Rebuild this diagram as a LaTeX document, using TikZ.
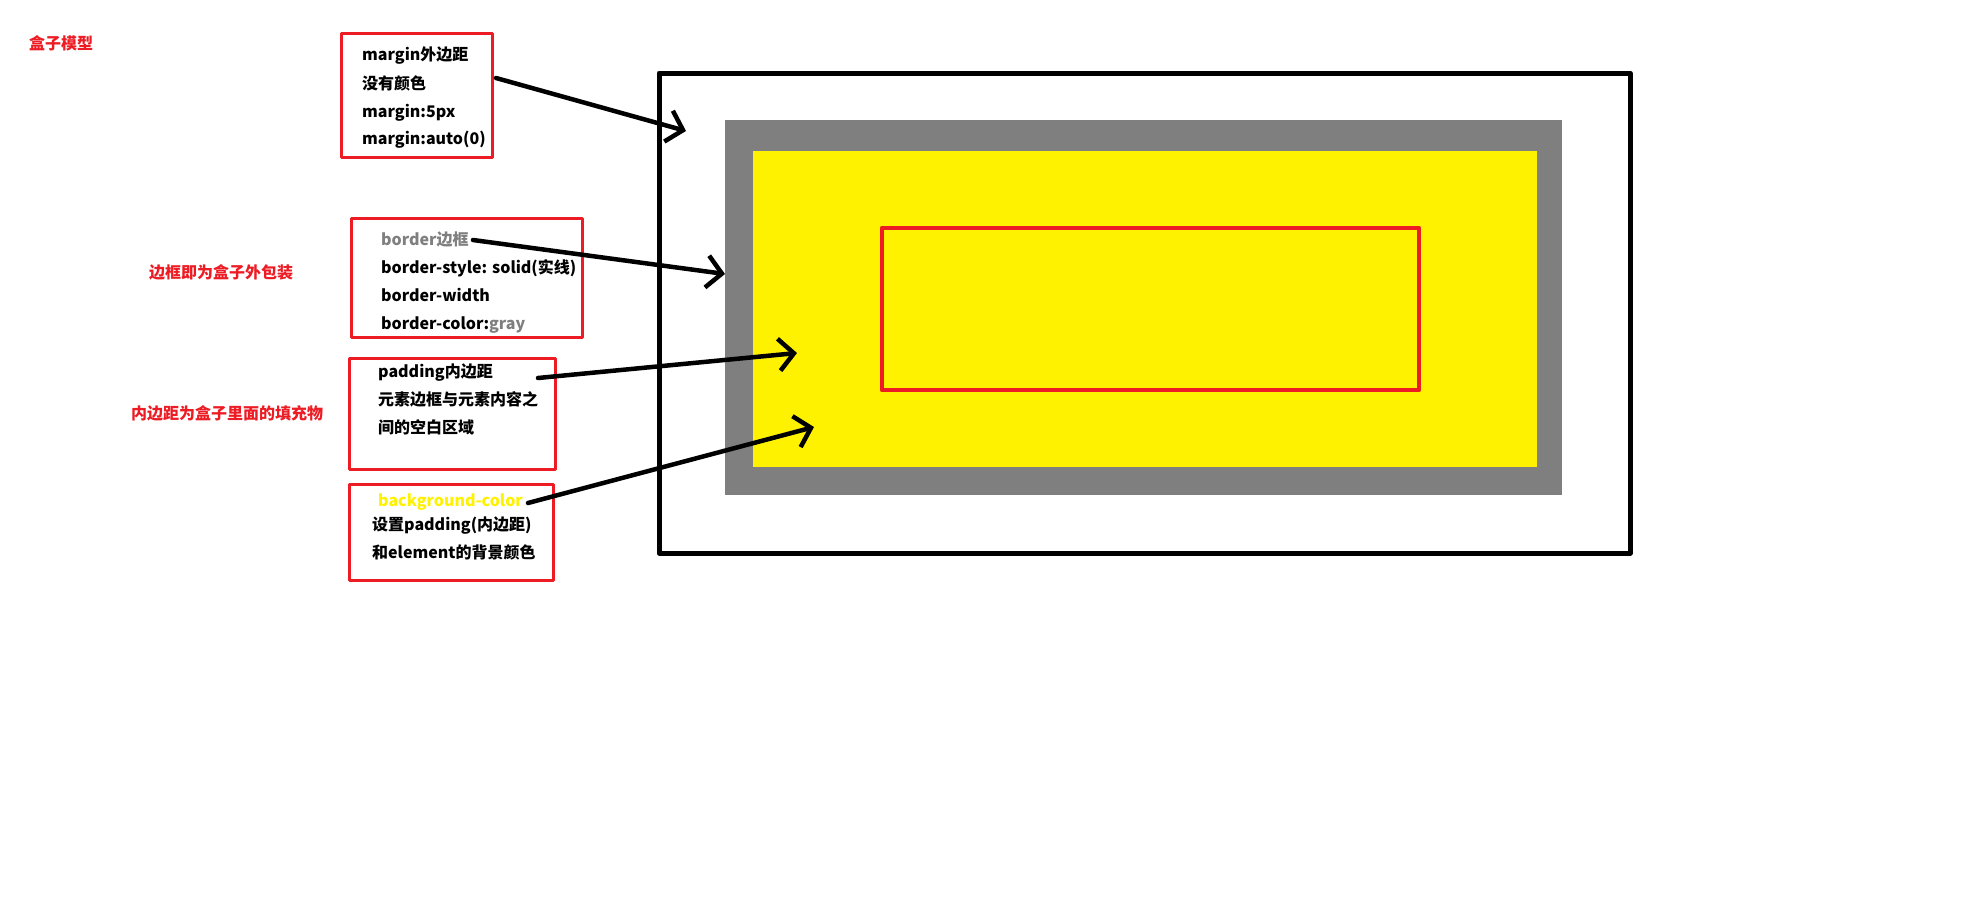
\documentclass[tikz,border=0pt]{standalone}
\usepackage{fontspec}
\newfontfamily\cjk{Noto Sans CJK SC}
\usetikzlibrary{arrows.meta}
\definecolor{paintred}{HTML}{ED1C24}
\definecolor{boxgray}{HTML}{7F7F7F}
\definecolor{boxyellow}{HTML}{FFF200}

\tikzset{
  note/.style={font=\cjk\bfseries\fontsize{16}{16}\selectfont, anchor=west, inner sep=0pt,
    text height=14pt, text depth=2pt},
  frame/.style={draw=paintred, line width=3pt},
  pointer/.style={-{Straight Barb[length=15pt,width=32pt]}, line width=4.5pt, line cap=round},
}

\begin{document}
\begin{tikzpicture}[x=1pt, y=-1pt, line join=round]
\useasboundingbox (0,0) rectangle (1986,921);
\fill[white] (0,0) rectangle (1986,921);

% Modello del box
\draw[line width=5pt] (659,73) rectangle (1630,553);
\fill[boxgray] (725,120) rectangle (1562,495);
\fill[boxyellow] (753,151) rectangle (1537,467);
\draw[paintred, line width=4.5pt] (882,228) rectangle (1419,390);

% Titoli
\node[note, text=paintred] (titolo) at (29,43) {盒子模型};
\node[note, text=paintred] (bordernote) at (149,272) {边框即为盒子外包装};
\node[note, text=paintred] (paddingnote) at (131,413) {内边距为盒子里面的填充物};

% Margin
\draw[frame] (341,33) rectangle (492,157);
\node[note] (m1) at (362,54) {margin外边距};
\node[note] (m2) at (362,83) {没有颜色};
\node[note] (m3) at (362,111) {margin:5px};
\node[note] (m4) at (362,138) {margin:auto(0)};

% Border
\draw[frame] (351,218) rectangle (582,337);
\node[note, text=boxgray] (b1) at (381,239) {border边框};
\node[note] (b2) at (381,267) {border-style: solid(实线)};
\node[note] (b3) at (381,295) {border-width};
\node[note] (b4) at (381,323) {border-color:\textcolor{boxgray}{gray}};

% Padding
\draw[frame] (349,358) rectangle (555,469);
\node[note] (p1) at (378,371) {padding内边距};
\node[note] (p2) at (378,399) {元素边框与元素内容之};
\node[note] (p3) at (378,427) {间的空白区域};

% Background
\draw[frame] (349,484) rectangle (553,580);
\node[note, text=boxyellow] (g1) at (378,500) {background-color};
\node[note] (g2) at (372,524) {设置padding(内边距)};
\node[note] (g3) at (372,552) {和element的背景颜色};

% Frecce
\coordinate (mfrom) at (496,78);
\coordinate (mto) at (686,131);
\coordinate (bfrom) at (473,240);
\coordinate (bto) at (725,274);
\coordinate (pfrom) at (538,378);
\coordinate (pto) at (797,353);
\coordinate (gfrom) at (528,503);
\coordinate (gto) at (814,427);
\draw[pointer] (mfrom) -- (mto);
\draw[pointer] (bfrom) -- (bto);
\draw[pointer] (pfrom) -- (pto);
\draw[pointer] (gfrom) -- (gto);

\end{tikzpicture}
\end{document}
